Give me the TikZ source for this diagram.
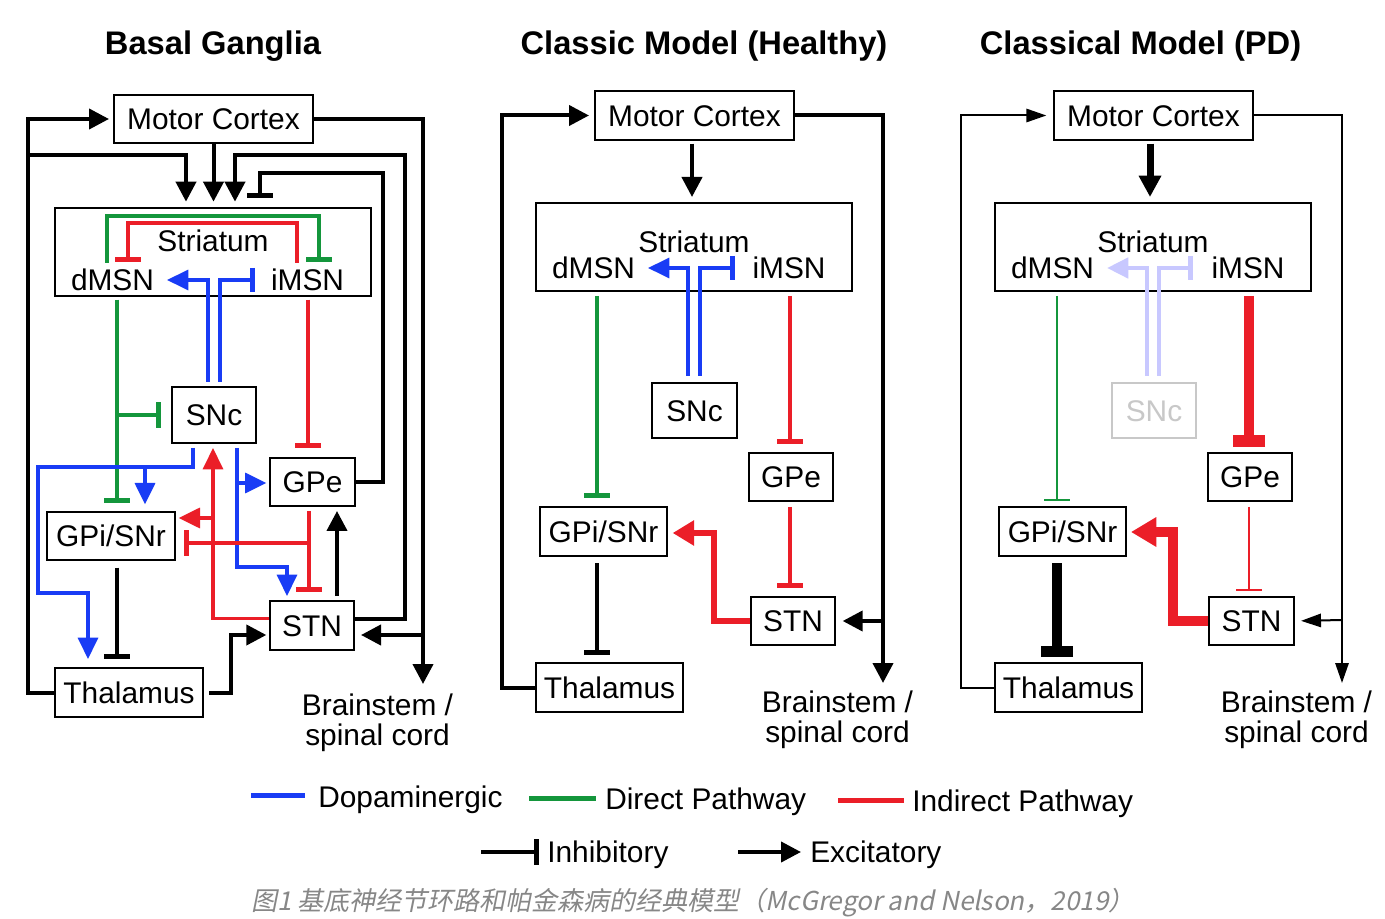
\documentclass[tikz,border=0pt]{standalone}
\usepackage{fontspec}
\setmainfont{Liberation Sans}
\newfontfamily\cjkfont[FakeSlant=0.2]{Noto Sans CJK SC}
\usetikzlibrary{arrows.meta,calc}
\definecolor{dblue}{RGB}{25,60,245}
\definecolor{dgreen}{RGB}{20,150,60}
\definecolor{dred}{RGB}{235,30,40}
\definecolor{fblue}{RGB}{200,200,255}
\definecolor{fgray}{RGB}{200,200,200}
\definecolor{capgray}{RGB}{135,135,135}
\def\myu{0.75pt}
\begin{document}
\begin{tikzpicture}[x=0.75pt,y=-0.75pt,
  box/.style={draw,line width=1.5pt,inner sep=0pt,font=\fontsize{22.4}{26}\selectfont,text height=16pt,text depth=0pt},
  lbl/.style={inner sep=0pt,font=\fontsize{22.4}{26}\selectfont,text height=16pt,text depth=0pt},
  ttl/.style={inner sep=0pt,font=\bfseries\fontsize{24.5}{28}\selectfont,text height=17.5pt,text depth=0pt},
  bst/.style={inner sep=0pt,align=center,font=\fontsize{22.4}{22.5}\selectfont},
  conn/.style={line width=3pt},
  exc/.style={conn,-{Triangle[length=15pt,width=15pt]}},
  inh/.style={conn,-{Bar[width=19pt,line width=3.75pt]}},
  cconn/.style={line width=2.6pt},
  bexc/.style={cconn,dblue,-{Triangle[length=16pt,width=15pt]}},
  binh/.style={cconn,dblue,-{Bar[width=18pt,line width=3.75pt]}},
  rexc/.style={cconn,dred,-{Triangle[length=16pt,width=15pt]}},
  rinh/.style={cconn,dred,-{Bar[width=19pt,line width=3.75pt]}},
  ginh/.style={cconn,dgreen,-{Bar[width=19pt,line width=3.75pt]}},
  fexc/.style={line width=3.5pt,fblue,-{Triangle[length=16pt,width=15pt]}},
  finh/.style={line width=3.5pt,fblue,-{Bar[width=18pt,line width=3.75pt]}},
  thinexc/.style={line width=1.5pt,-{Triangle[length=15pt,width=10pt]}},
  leg/.style={inner sep=0pt,font=\fontsize{22.4}{26}\selectfont,text height=16pt,text depth=0pt}
]
\useasboundingbox (0,0) rectangle (1385,919);
\fill[white] (0,0) rectangle (1385,919);

% ---------- titles ----------
\node[ttl] (t1) at (213,43) {Basal Ganglia};
\node[ttl] (t2) at (704,43) {Classic Model (Healthy)};
\node[ttl] (t3) at (1140.5,43) {Classical Model (PD)};

% ================= Panel A =================
\node[box,minimum width=199*\myu,minimum height=48*\myu] (mcA) at (213.5,119) {Motor Cortex};
\node[box,minimum width=316*\myu,minimum height=88*\myu] (stA) at (213,252) {};
\node[lbl] (sA) at (213,240.5) {Striatum};
\node[lbl] (dA) at (112.5,280) {dMSN};
\node[lbl] (iA) at (307.5,280) {iMSN};
\node[box,minimum width=84*\myu,minimum height=56*\myu] (snA) at (214,415) {SNc};
\node[box,minimum width=85*\myu,minimum height=48*\myu] (gpeA) at (312.5,482) {GPe};
\node[box,minimum width=84*\myu,minimum height=49*\myu] (stnA) at (312,625.5) {STN};
\node[box,minimum width=128*\myu,minimum height=48*\myu] (gpiA) at (111,536) {GPi/SNr};
\node[box,minimum width=148*\myu,minimum height=49*\myu] (thA) at (129,692.5) {Thalamus};
\node[bst] (bsA) at (377.5,723) {Brainstem /\\spinal cord};
\coordinate (bsAin) at (423,684);

% black
\draw[exc,shorten >=3pt] (thA.west) -| (28,119) -- (mcA.west);
\draw[exc,shorten >=4pt] (28,155) -| (stA.north -| 186,0);
\draw[exc,shorten >=4pt] (mcA.south) -- (mcA.south |- stA.north);
\draw[exc,shorten >=4pt] ($(stnA.east)+(0,-7)$) -| (405,155) -| (stA.north -| 235,0);
\draw[inh] (gpeA.east) -| (383,173) -| ($(stA.north -| 260,0)+(0,-9)$);
\draw[exc] (mcA.east) -| (bsAin);
\draw[exc,shorten >=4.5pt] (423,635) -- (stnA.east |- 0,635);
\draw[exc,shorten >=2pt] ($(thA.east)+(5,0)$) -- ++(22,0) |- ($(stnA.west)+(0,9.5)$);
\draw[inh,shorten <=5pt,shorten >=6pt] (gpiA.south -| 117,0) -- (thA.north -| 117,0);
\draw[exc,shorten <=3pt,shorten >=3pt] (stnA.north -| 337,0) -- (gpeA.south -| 337,0);

% coloured
\draw[ginh] (107,263) |- (319,216) -- (319,262);
\draw[rinh] (297,263) |- (128,223) -- (128,262);
\draw[bexc,shorten <=3pt] (snA.north -| 208,0) |- (167,280);
\draw[binh,shorten <=3pt] (snA.north -| 220,0) |- (255,280);
\draw[ginh,shorten <=2pt,shorten >=6pt] (stA.south -| 117,0) -- (gpiA.north -| 117,0);
\draw[ginh,shorten >=7.5pt] (117,415) -- (snA.west);
\draw[rinh,shorten <=2pt,shorten >=6.75pt] (stA.south -| 308,0) -- (gpeA.north -| 308,0);
\draw[bexc,shorten <=3pt,shorten >=6pt] (snA.south -| 193,0) -- (193,467) -| (38,593) -| (thA.north -| 88,0);
\draw[bexc,shorten >=5pt] (145,467) -- (gpiA.north -| 145,0);
\draw[bexc,shorten <=3pt,shorten >=3pt] (snA.south -| 237,0) |- (287,567) -- (stnA.north -| 287,0);
\draw[bexc,shorten >=2pt] (237,483) -- (gpeA.west |- 0,483);
\draw[rexc,shorten >=3pt] ($(stnA.west)+(0,-7)$) -| (snA.south -| 213,0);
\draw[rexc,shorten >=2pt] (213,518) -- (gpiA.east |- 0,518);
\draw[rinh,shorten <=3pt,shorten >=6pt] (gpeA.south -| 309,0) -- (stnA.north -| 309,0);
\draw[rinh,shorten >=6pt] (309,543) -- (gpiA.east |- 0,543);

% ================= Panel B =================
\node[box,minimum width=199*\myu,minimum height=49*\myu] (mcB) at (694.5,115.5) {Motor Cortex};
\node[box,minimum width=316*\myu,minimum height=88*\myu] (stB) at (694,247) {};
\node[lbl] (sB) at (694,242) {Striatum};
\node[lbl] (dB) at (593.5,267.5) {dMSN};
\node[lbl] (iB) at (789,267.5) {iMSN};
\node[box,minimum width=85*\myu,minimum height=55*\myu] (snB) at (694.5,410.5) {SNc};
\node[box,minimum width=84*\myu,minimum height=48*\myu] (gpeB) at (791,477) {GPe};
\node[box,minimum width=84*\myu,minimum height=48*\myu] (stnB) at (793,621) {STN};
\node[box,minimum width=127*\myu,minimum height=49*\myu] (gpiB) at (603.5,531.5) {GPi/SNr};
\node[box,minimum width=147*\myu,minimum height=49*\myu] (thB) at (609.5,687.5) {Thalamus};
\node[bst] (bsB) at (837.5,720) {Brainstem /\\spinal cord};
\coordinate (bsBin) at (883,683);

\draw[exc,shorten <=2pt,shorten >=3.75pt] (mcB.south -| 692,0) -- (stB.north -| 692,0);
\draw[bexc,shorten <=4.5pt] (snB.north -| 688,0) |- (648,268);
\draw[binh,shorten <=4.5pt] (snB.north -| 700,0) |- (735,268);
\draw[ginh,shorten <=3pt,shorten >=6pt] (stB.south -| 597,0) -- (gpiB.north -| 597,0);
\draw[rinh,shorten <=3pt,shorten >=6pt] (stB.south -| 790,0) -- (gpeB.north -| 790,0);
\draw[rinh,shorten <=3.75pt,shorten >=6pt] (gpeB.south -| 790,0) -- (stnB.north -| 790,0);
\draw[dred,line width=5pt,-{Triangle[length=16pt,width=18pt]},shorten >=3.5pt] (stnB.west) -| (714,533) -- (gpiB.east |- 0,533);
\draw[inh,shorten <=4.5pt,shorten >=5pt] (gpiB.south -| 597,0) -- (thB.north -| 597,0);
\draw[exc,shorten >=3.75pt] (thB.west) -| (502,115.5) -- (mcB.west);
\draw[exc] (mcB.east) -| (bsBin);
\draw[exc,shorten >=5pt] (883,621) -- (stnB.east);

% ================= Panel C =================
\node[box,minimum width=199*\myu,minimum height=49*\myu] (mcC) at (1153.5,115.5) {Motor Cortex};
\node[box,minimum width=316*\myu,minimum height=88*\myu] (stC) at (1153,247) {};
\node[lbl] (sC) at (1153,242) {Striatum};
\node[lbl] (dC) at (1052.5,267.5) {dMSN};
\node[lbl] (iC) at (1248,267.5) {iMSN};
\node[box,draw=fgray,text=fgray,minimum width=84*\myu,minimum height=55*\myu] (snC) at (1154,410.5) {SNc};
\node[box,minimum width=84*\myu,minimum height=48*\myu] (gpeC) at (1250,477) {GPe};
\node[box,minimum width=85*\myu,minimum height=48*\myu] (stnC) at (1251.5,621) {STN};
\node[box,minimum width=127*\myu,minimum height=49*\myu] (gpiC) at (1062.5,531.5) {GPi/SNr};
\node[box,minimum width=147*\myu,minimum height=49*\myu] (thC) at (1068.5,687.5) {Thalamus};
\node[bst] (bsC) at (1296.5,720) {Brainstem /\\spinal cord};
\coordinate (bsCin) at (1342,683);

\draw[line width=5.25pt,-{Triangle[length=16pt,width=16pt]},shorten <=2pt,shorten >=3.75pt] (mcC.south -| 1150,0) -- (stC.north -| 1150,0);
\draw[fexc,shorten <=4.5pt] (snC.north -| 1147,0) |- (1107,268);
\draw[finh,shorten <=4.5pt] (snC.north -| 1159,0) |- (1193,268);
\draw[dgreen,line width=1.5pt,-{Bar[width=19pt,line width=1.5pt]},shorten <=3pt,shorten >=3.75pt] (stC.south -| 1057,0) -- (gpiC.north -| 1057,0);
\draw[dred,line width=7.5pt,-{Bar[width=24pt,line width=9pt]},shorten <=3pt,shorten >=4pt] (stC.south -| 1249,0) -- (gpeC.north -| 1249,0);
\draw[dred,line width=1.5pt,-{Bar[width=19pt,line width=1.5pt]},shorten <=3.75pt,shorten >=3.75pt] (gpeC.south -| 1249,0) -- (stnC.north -| 1249,0);
\draw[dred,line width=7.5pt,-{Triangle[length=19pt,width=21pt]},shorten >=3pt] (stnC.west) -| (1173,532) -- (gpiC.east |- 0,532);
\draw[line width=7.5pt,-{Bar[width=24pt,line width=8.25pt]},shorten <=4.5pt,shorten >=3.75pt] (gpiC.south -| 1057,0) -- (thC.north -| 1057,0);
\draw[thinexc,shorten >=5pt] (thC.west) -| (961,115.5) -- (mcC.west);
\draw[thinexc] (mcC.east) -| (bsCin);
\draw[thinexc,shorten >=4.5pt] (1342,620) -- (stnC.east);

% ================= Legend =================
\draw[line width=3.75pt,dblue] (251,795) -- (305,795);
\node[leg,anchor=west] (lg1) at (318,797) {Dopaminergic};
\draw[line width=3.75pt,dgreen] (529,798) -- (596,798);
\node[leg,anchor=west] (lg2) at (605,799) {Direct Pathway};
\draw[line width=3.75pt,dred] (838,800) -- (904,800);
\node[leg,anchor=west] (lg3) at (912,801) {Indirect Pathway};
\draw[inh] (481,852) -- (539,852);
\node[leg,anchor=west] (lg4) at (547,852) {Inhibitory};
\draw[exc] (738,852) -- (801,852);
\node[leg,anchor=west] (lg5) at (810,852) {Excitatory};

% caption
\node[inner sep=0pt,text=capgray,font=\cjkfont\fontsize{19.5}{22}\selectfont] (cap) at (693,903) {图1 基底神经节环路和帕金森病的经典模型（McGregor and Nelson，2019）};
\end{tikzpicture}
\end{document}
